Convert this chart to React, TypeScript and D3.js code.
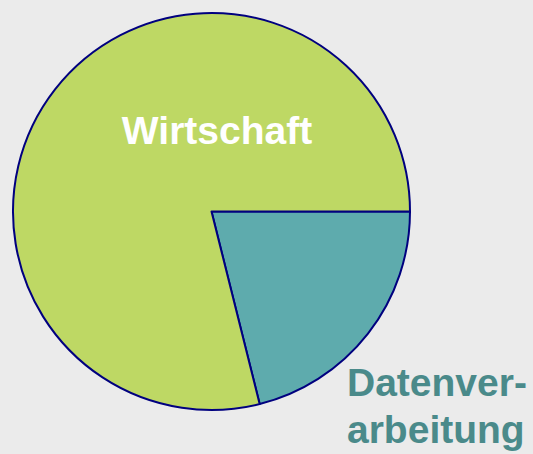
import React from "react";
import * as d3 from "d3";

const categories = ["Datenverarbeitung", "Wirtschaft"];
const values = [21.1, 78.9];
const colors = ["#5eabad", "#bed864"];

const W = 533;
const H = 454;
const cx = 211.5;
const cy = 211.5;
const R = 198.5;

export default function App() {
  const pie = d3
    .pie<number>()
    .sort(null)
    .startAngle(Math.PI / 2)
    .endAngle(Math.PI / 2 + 2 * Math.PI);
  const arcs = pie(values);
  const arc = d3.arc<d3.PieArcDatum<number>>().innerRadius(0).outerRadius(R);

  return (
    <svg
      width={W}
      height={H}
      style={{ position: "absolute", left: 0, top: 0, display: "block" }}
      fontFamily="'Liberation Sans', Arial, sans-serif"
    >
      <rect x={0} y={0} width={W} height={H} fill="#ebebeb" />
      <g transform={`translate(${cx},${cy})`}>
        {arcs.map((a, i) => (
          <path
            key={categories[i]}
            d={arc(a) || ""}
            fill={colors[i]}
            stroke="#00007f"
            strokeWidth={2}
            strokeLinejoin="round"
          />
        ))}
      </g>
      <text
        x={217}
        y={144}
        textAnchor="middle"
        fill="#ffffff"
        fontWeight="bold"
        fontSize={39}
      >
        Wirtschaft
      </text>
      <text x={347} y={396} fill="#4a8a8a" fontWeight="bold" fontSize={39}>
        Datenver-
      </text>
      <text x={347} y={443} fill="#4a8a8a" fontWeight="bold" fontSize={39}>
        arbeitung
      </text>
    </svg>
  );
}
